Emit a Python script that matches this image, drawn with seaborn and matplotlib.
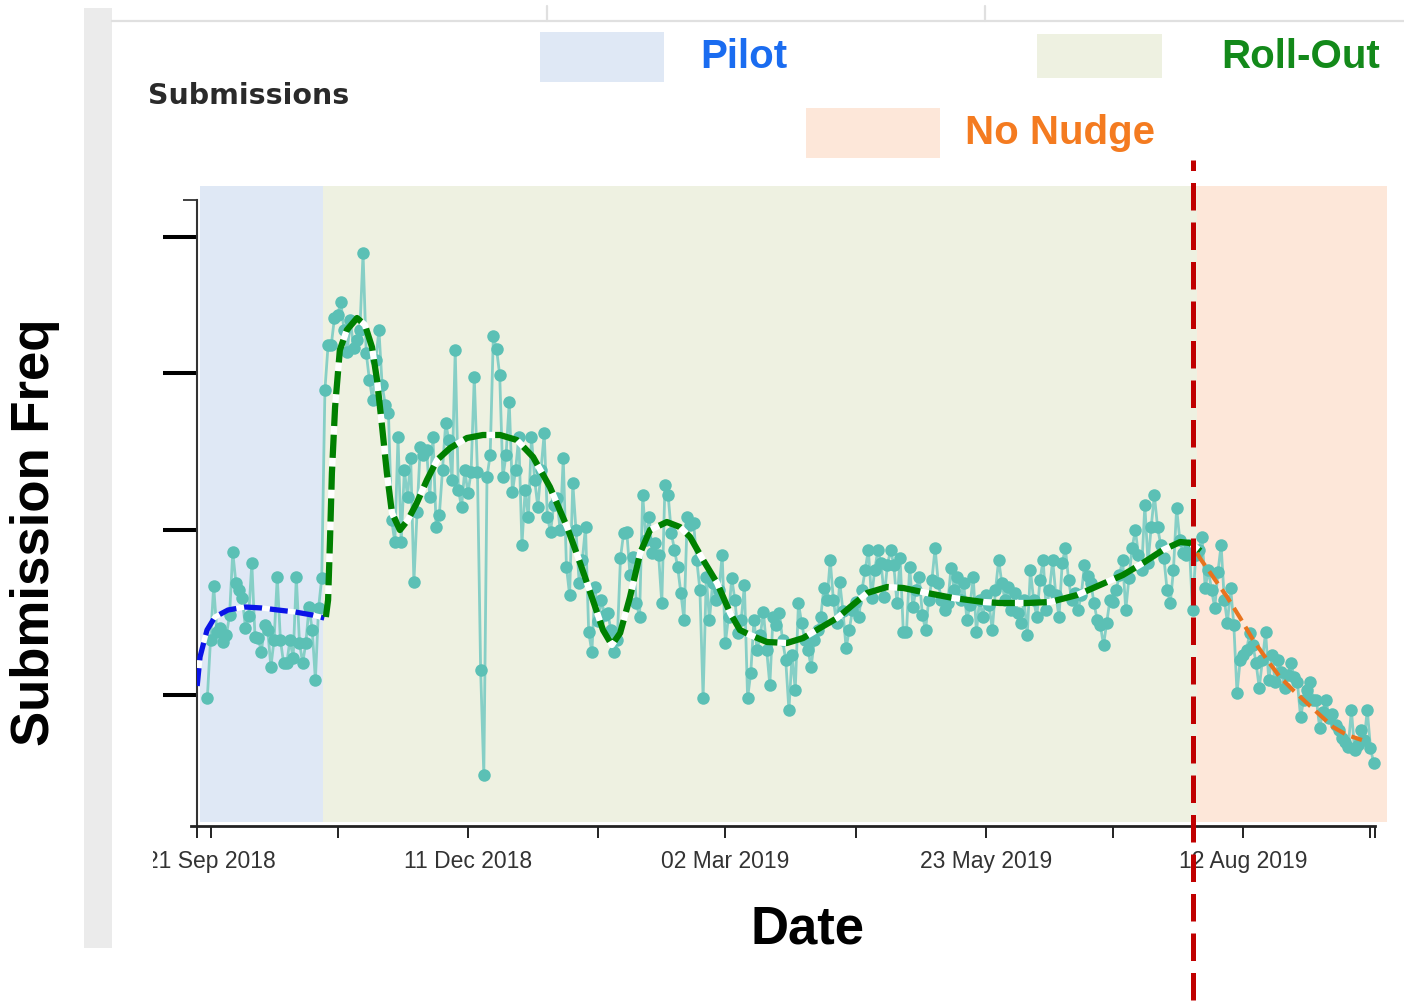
import numpy as np
import pandas as pd
import matplotlib
matplotlib.use("Agg")
import matplotlib.pyplot as plt
import matplotlib.dates as mdates
from matplotlib.patches import Rectangle
from matplotlib.lines import Line2D
import seaborn as sns

# --- DATA ---
# daily submission counts, first point on 2018-09-20
pilot_counts = [
    128, 186, 240, 194, 198, 184, 191, 211, 274, 243,
    236, 228, 198, 210, 263, 189, 188, 174, 201, 196,
    159, 186, 249, 186, 163, 163, 186, 168, 249, 183,
    163, 183, 219, 196, 146, 218, 248]
rollout_counts = [
    436, 481, 481, 508, 511, 524, 496, 474, 506, 478,
    486, 496, 573, 473, 446, 426, 466, 496, 441, 421,
    413, 306, 284, 389, 284, 356, 329, 368, 244, 314,
    379, 371, 376, 329, 389, 299, 311, 356, 403, 386,
    346, 476, 336, 319, 356, 333, 354, 449, 354, 156,
    51, 349, 371, 490, 477, 451, 349, 371, 424, 334,
    356, 389, 281, 336, 309, 389, 346, 319, 356, 393,
    309, 294, 321, 328, 296, 368, 259, 231, 343, 296,
    243, 266, 299, 194, 174, 239, 205, 226, 211, 213,
    196, 174, 186, 268, 293, 294, 251, 269, 223, 209,
    331, 286, 309, 273, 283, 271, 223, 341, 331, 293,
    276, 259, 233, 206, 309, 301, 303, 266, 236, 128,
    249, 206, 243, 226, 236, 271, 183, 209, 248, 226,
    193, 206, 241, 128, 153, 206, 176, 191, 214, 176,
    141, 209, 201, 213, 186, 166, 116, 171, 136, 223,
    203, 186, 176, 159, 186, 196, 209, 238, 226, 266,
    226, 203, 244, 215, 178, 196, 216, 224, 209, 236,
    256, 276, 228, 256, 276, 263, 229, 261, 276, 261,
    223, 268, 194, 194, 259, 219, 236, 249, 211, 196,
    226, 246, 278, 243, 226, 216, 223, 258, 236, 249,
    226, 243, 206, 221, 249, 194, 226, 209, 231, 221,
    196, 236, 266, 243, 226, 239, 216, 233, 213, 203,
    226, 191, 256, 226, 209, 246, 266, 216, 236, 266,
    231, 209, 263, 278, 246, 226, 233, 216, 231, 261,
    250, 243, 223, 206, 201, 181, 203, 226, 224, 236,
    251, 266, 216, 248, 278, 296, 271, 256, 321, 263,
    299, 331, 299, 281, 268, 236, 223, 256, 318, 286,
    273, 271, 281, 216]
nonudge_counts = [
    271, 276, 289, 238, 256, 236, 218, 254, 281, 226,
    203, 238, 201, 133, 166, 171, 176, 193, 181, 163,
    138, 166, 194, 146, 171, 144, 166, 154, 138, 151,
    163, 149, 144, 109, 126, 136, 144, 126, 126, 98,
    114, 126, 108, 112, 101, 96, 88, 84, 79, 116,
    76, 81, 96, 86, 116, 78, 63]

# fitted trend per phase (days after 21 Sep 2018, value)
pilot_trend_day = [-4.2, -3.3, -1.1, 1.4, 5.5, 10.9, 16.2, 21.2, 26.6, 32.0, 35.8]
pilot_trend_val = [140, 169, 196, 209, 216, 219, 218, 216, 214, 211, 208]
rollout_trend_day = [36.3, 37.0, 37.6, 38.2, 39.2, 40.7, 42.9, 46.1, 48.6, 50.8,
                     52.4, 54.0, 55.5, 57.1, 59.6, 62.1, 64.9, 68.1, 71.3, 75.4,
                     80.7, 85.7, 91.1, 96.4, 101.5, 106.8, 112.2, 116.3, 120.3, 123.5,
                     126.3, 128.9, 132.0, 135.2, 138.3, 143.6, 147.7, 150.9, 155.0, 159.4,
                     163.5, 166.6, 169.8, 175.1, 181.4, 186.5, 191.8, 197.2, 201.3, 206.6,
                     212.9, 218.0, 225.5, 233.7, 243.2, 248.4, 256.9, 264.2, 272.7, 279.9,
                     287.1, 293.4, 299.7, 305.1, 308.2, 311.5]
rollout_trend_val = [209, 226, 286, 353, 419, 476, 496, 508, 501, 479,
                     446, 399, 353, 313, 296, 306, 323, 346, 366, 378,
                     388, 391, 391, 386, 369, 339, 299, 263, 226, 196,
                     181, 193, 229, 273, 296, 304, 299, 289, 266, 243,
                     213, 196, 191, 184, 183, 188, 198, 208, 219, 233,
                     239, 238, 233, 228, 224, 223, 223, 224, 231, 241,
                     251, 263, 276, 284, 283, 275]
nonudge_trend_day = [310.4, 311.3, 315.5, 319.9, 324.0, 328.1, 332.5, 336.5,
                     340.6, 345.0, 349.1, 353.2, 357.6, 362.3]
nonudge_trend_val = [273, 268, 249, 229, 208, 186, 166, 149, 136, 123, 111, 99, 91, 86]

# phase spans (days after 21 Sep 2018) and cut-off
phase_names = ["Pilot", "Roll-Out", "No Nudge"]
phase_start = [-3.3, 35.4, 310.4]
phase_end = [35.4, 310.4, 370.2]
cutoff_day = 309.2

tick_dates = ["2018-09-21", "2018-12-11", "2019-03-02", "2019-05-23", "2019-08-12"]
tick_labels = ["21 Sep 2018", "11 Dec 2018", "02 Mar 2019", "23 May 2019", "12 Aug 2019"]
minor_tick_dates = ["2018-10-31", "2019-01-21", "2019-04-12", "2019-07-02", "2019-09-21"]

# --- STYLE ---
W, H = 1404, 1002
START = pd.Timestamp("2018-09-21")
span_colors = ["#dfe8f5", "#eef1e1", "#fde7d9"]
label_colors = ["#1a6cf0", "#13891a", "#f47b20"]


def dnum(d):
    return mdates.date2num(START + pd.to_timedelta(np.asarray(d, dtype=float), unit="D"))


def fx(px):
    return px / W


def fy(py):
    return 1 - py / H


counts = pilot_counts + rollout_counts + nonudge_counts
df = pd.DataFrame({"date": pd.date_range("2018-09-20", periods=len(counts), freq="D"),
                   "count": counts})

sns.set_style("ticks")
plt.rcParams["font.family"] = ["Liberation Sans", "DejaVu Sans"]

fig = plt.figure(figsize=(W / 100, H / 100), dpi=100)
fig.patch.set_facecolor("white")

# screenshot frame bits
fig.add_artist(Rectangle((fx(84), fy(948)), 28 / W, 940 / H, transform=fig.transFigure,
                         color="#ebebeb", lw=0, zorder=0))
fig.add_artist(Line2D([fx(112), 1], [fy(21), fy(21)], transform=fig.transFigure,
                      color="#e0e0e0", lw=1.6))
for px in (547, 985):
    fig.add_artist(Line2D([fx(px), fx(px)], [fy(6), fy(21)], transform=fig.transFigure,
                          color="#e0e0e0", lw=1.6))

ax = fig.add_axes([fx(197), fy(826), (1387 - 197) / W, (826 - 186) / H])
ax.set_facecolor("white")

# phase shading
for a, b, c in zip(phase_start, phase_end, span_colors):
    ax.axvspan(dnum(a), dnum(b), ymin=4 / 640, ymax=1, color=c, lw=0, zorder=0)

# daily counts
sns.lineplot(data=df, x="date", y="count", ax=ax, color="#86cfc6", lw=2.0,
             marker="o", markersize=9, markerfacecolor="#5bc0b5",
             markeredgewidth=0, estimator=None, zorder=3)

# trend curves
trends = [
    (pilot_trend_day, pilot_trend_val, "#0a14e8", 3.8, (0, (3.4, 1.5)), "white"),
    (rollout_trend_day, rollout_trend_val, "#008000", 4.5, (0, (3.7, 1.4)), "white"),
    (nonudge_trend_day, nonudge_trend_val, "#e8731e", 3.0, (0, (3.6, 1.7)), None),
]
for days, vals, c, lw, ls, gap in trends:
    x = pd.to_datetime(mdates.num2date(dnum(days))).tz_localize(None)
    sns.lineplot(x=x, y=vals, ax=ax, color=c, lw=lw, linestyle=ls, gapcolor=gap,
                 sort=False, estimator=None, zorder=4)

# cut-off line
ax.axvline(dnum(cutoff_day), ymin=-0.272, ymax=1.0406, color="#c00000", lw=3.6,
           linestyle=(0, (5.5, 2.4)), clip_on=False, zorder=10)

ax.set_xlim(dnum(-4.25), dnum(370.2))
ax.set_ylim(0, 640)

ax.set_xticks(mdates.date2num(pd.to_datetime(tick_dates)))
ax.set_xticklabels(tick_labels, fontsize=16.5, color="#333333")
ax.set_xticks(list(mdates.date2num(pd.to_datetime(minor_tick_dates)))
              + [dnum(-4.25), dnum(366.3)], minor=True)
ax.tick_params(axis="x", which="both", length=8.6, width=1.4, color="#222222",
               pad=9, bottom=True)

ax.set_yticks([131, 296, 453, 589])
ax.set_yticklabels([])
ax.set_yticks([626], minor=True)
ax.tick_params(axis="y", which="major", length=24.5, width=2.9, color="black", left=True)
ax.tick_params(axis="y", which="minor", length=10, width=1.3, color="#333333", left=True)

for s in ("top", "right"):
    ax.spines[s].set_visible(False)
ax.spines["left"].set_bounds(0, 626)
ax.spines["left"].set_linewidth(1.5)
ax.spines["left"].set_color("#333333")
ax.spines["bottom"].set_bounds(dnum(-6), dnum(366.3))
ax.spines["bottom"].set_linewidth(2)
ax.spines["bottom"].set_color("#222222")

ax.set_xlabel("Date", fontsize=38, fontweight="bold", color="black")
ax.xaxis.label.set_va("center")
ax.xaxis.set_label_coords((808 - 197) / 1190, (826 - 929) / 640)
ax.set_ylabel("Submission Freq", fontsize=38, fontweight="bold", color="black")
ax.yaxis.label.set_va("center")
ax.yaxis.set_label_coords((35 - 197) / 1190, (826 - 532) / 640)

# panel edge hides the start of the first date label, as in the screenshot
fig.add_artist(Rectangle((fx(113), fy(880)), 40 / W, 40 / H, transform=fig.transFigure,
                         color="white", lw=0, zorder=5))

fig.text(fx(148), fy(96), "Submissions", family="DejaVu Sans", fontweight="bold",
         fontsize=20.5, color="#2a2a2a", ha="left", va="center")

# phase key
boxes = [(540, 32, 124, 50), (1037, 34, 125, 44), (806, 108, 134, 50)]
text_pos = [(744, 57), (1301, 57), (1060, 133)]
for (bx, by, bw, bh), (tx, ty), c, tc, name in zip(boxes, text_pos, span_colors,
                                                  label_colors, phase_names):
    fig.add_artist(Rectangle((fx(bx), fy(by + bh)), bw / W, bh / H,
                             transform=fig.transFigure, color=c, lw=0))
    fig.text(fx(tx), fy(ty), name, fontsize=29, fontweight="bold", color=tc,
             ha="center", va="center")

fig.savefig("out.png", dpi=100, facecolor="white")
